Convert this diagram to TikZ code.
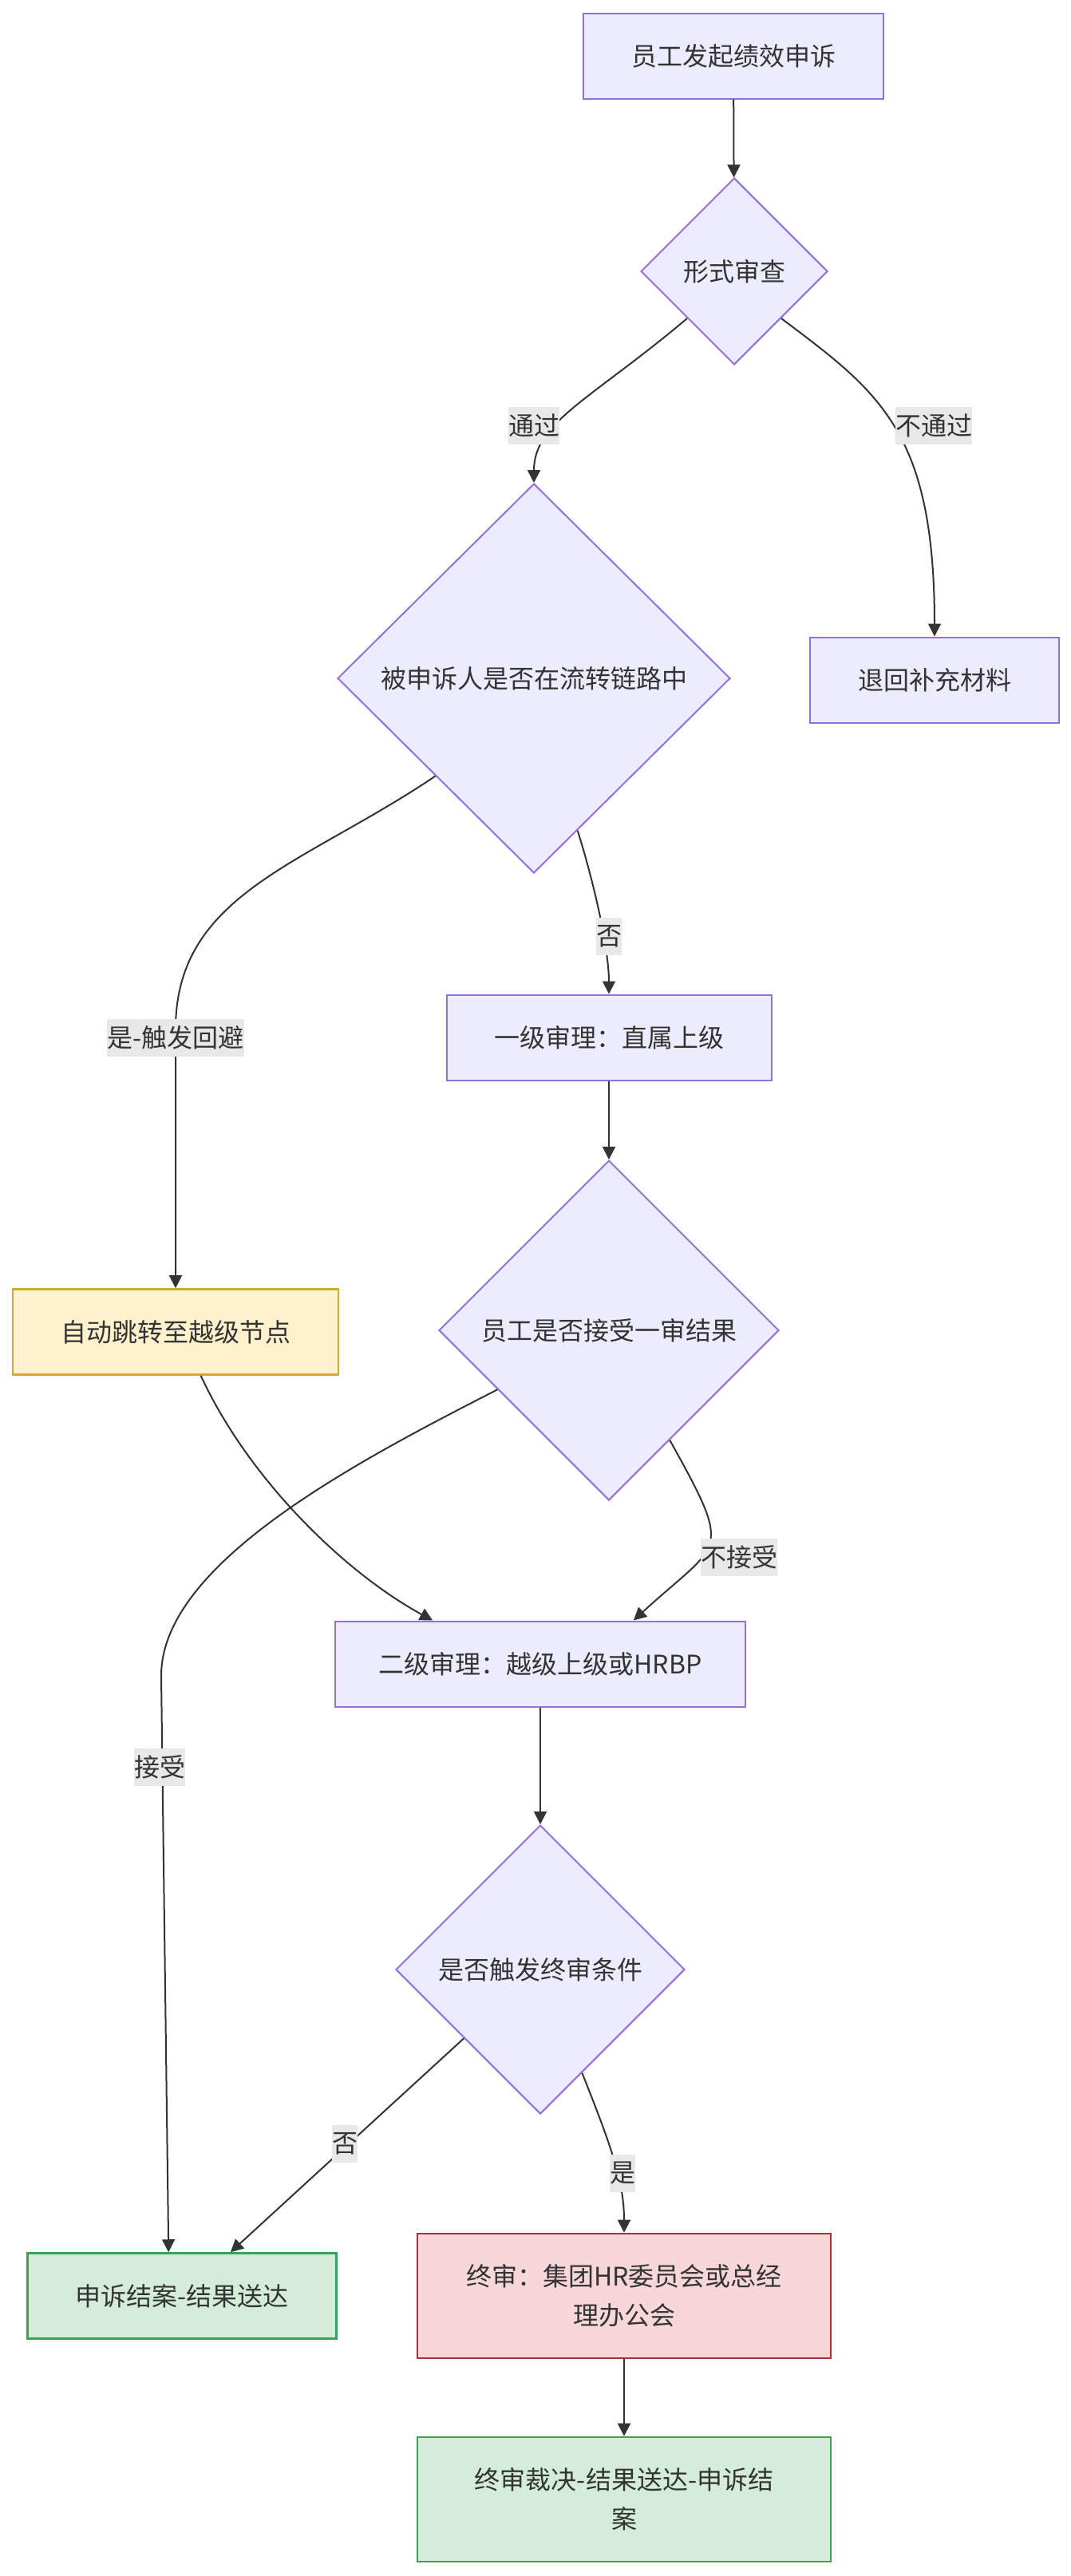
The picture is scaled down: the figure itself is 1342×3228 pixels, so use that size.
\documentclass[tikz,border=0pt]{standalone}
\usepackage{fontspec}
\newfontfamily\cjk{Noto Sans CJK SC}
\usetikzlibrary{arrows.meta,shapes.geometric}
\definecolor{ink}{HTML}{333333}
\definecolor{boxfill}{HTML}{ECECFF}
\definecolor{boxline}{HTML}{9370DB}
\definecolor{skipfill}{HTML}{FFF2CC}
\definecolor{skipline}{HTML}{D4A83C}
\definecolor{okfill}{HTML}{D4EDDA}
\definecolor{okline}{HTML}{3BA155}
\definecolor{topfill}{HTML}{F8D7DA}
\definecolor{topline}{HTML}{A83232}
\definecolor{lblfill}{HTML}{E8E8E8}

\begin{document}
\begin{tikzpicture}[x=0.5pt, y=-0.5pt, >={Triangle[length=8pt,width=8pt]},
  font=\cjk\fontsize{16}{24.5}\selectfont, text=ink, line width=1pt,
  box/.style={draw=boxline, fill=boxfill, minimum height=53.5pt, inner sep=0pt, align=center},
  dec/.style={draw=boxline, fill=boxfill, diamond, aspect=1, inner sep=0pt},
  lbl/.style={fill=lblfill, inner sep=0pt, minimum height=23.5pt},
  flow/.style={draw=ink, ->}]
\useasboundingbox (0,0) rectangle (1342,3228);
\node[box, minimum width=188pt] (s) at (919,70) {员工发起绩效申诉};
\node[dec, minimum size=117pt] (fc) at (920,340) {形式审查};
\node[dec, minimum width=246pt, minimum height=244pt] (ch) at (669,850) {被申诉人是否在流转链路中};
\node[box, minimum width=156pt] (rb) at (1171,852) {退回补充材料};
\node[box, minimum width=203.5pt] (r1) at (763,1300) {一级审理：直属上级};
\node[dec, minimum size=213pt] (ac) at (763,1667) {员工是否接受一审结果};
\node[box, draw=skipline, fill=skipfill, line width=1.3pt, minimum width=204pt] (sk) at (220,1669) {自动跳转至越级节点};
\node[box, minimum width=257pt] (r2) at (677,2085) {二级审理：越级上级或HRBP};
\node[dec, minimum size=181pt] (ft) at (677,2468) {是否触发终审条件};
\node[box, draw=okline, fill=okfill, line width=1.3pt, minimum width=193.5pt] (cl) at (228,2877) {申诉结案-结果送达};
\node[box, draw=topline, fill=topfill, line width=1.3pt, minimum width=259pt, minimum height=78pt] (f) at (782,2877) {终审：集团HR委员会或总经\\理办公会};
\node[box, draw=okline, fill=okfill, line width=1.3pt, minimum width=259pt, minimum height=78pt] (fv) at (782,3132) {终审裁决-结果送达-申诉结\\案};
% bends where the long edges turn straight
\coordinate (avoid) at (220,1290);
\coordinate (accb) at (202,2100);
\draw[flow] (s) -- (fc);
\draw[flow] (fc.south west) .. controls +(-121,102) and +(0,-76) .. (ch.north);
\draw[flow] (fc.south east) .. controls +(122,92) and +(0,-258) .. (rb.north);
\draw[flow] (ch.south west) .. controls +(-166,112) and +(0,-170) .. (avoid) -- (sk.north);
\draw[flow] (ch.-74) .. controls +(25,80) and +(0,-50) .. (r1.north);
\draw[flow] (r1) -- (ac);
\draw[flow] (ac.-61) .. controls +(81,146) and +(110,-101) .. (r2.25);
\draw[flow] (sk.-60) .. controls +(60,130) and +(-110,-60) .. (r2.158);
\draw[flow] (ac.-152) .. controls +(-180,92) and +(0,-140) .. (accb) -- (cl.107);
\draw[flow] (r2) -- (ft);
\draw[flow] (ft.-138) -- (cl.42);
\draw[flow] (ft.-68) .. controls +(40,100) and +(0,-60) .. (f.north);
\draw[flow] (f) -- (fv);
% edge labels
\node[lbl] (lpass) at (669,533) {通过};
\node[lbl] (lfail) at (1170,533) {不通过};
\node[lbl] (lavoid) at (220,1300) {是-触发回避};
\node[lbl] (lno1) at (763,1173) {否};
\node[lbl] (lrej) at (926,1951) {不接受};
\node[lbl] (lacc) at (200,2214) {接受};
\node[lbl] (lno2) at (432,2686) {否};
\node[lbl] (lyes) at (780,2723) {是};
\end{tikzpicture}
\end{document}
